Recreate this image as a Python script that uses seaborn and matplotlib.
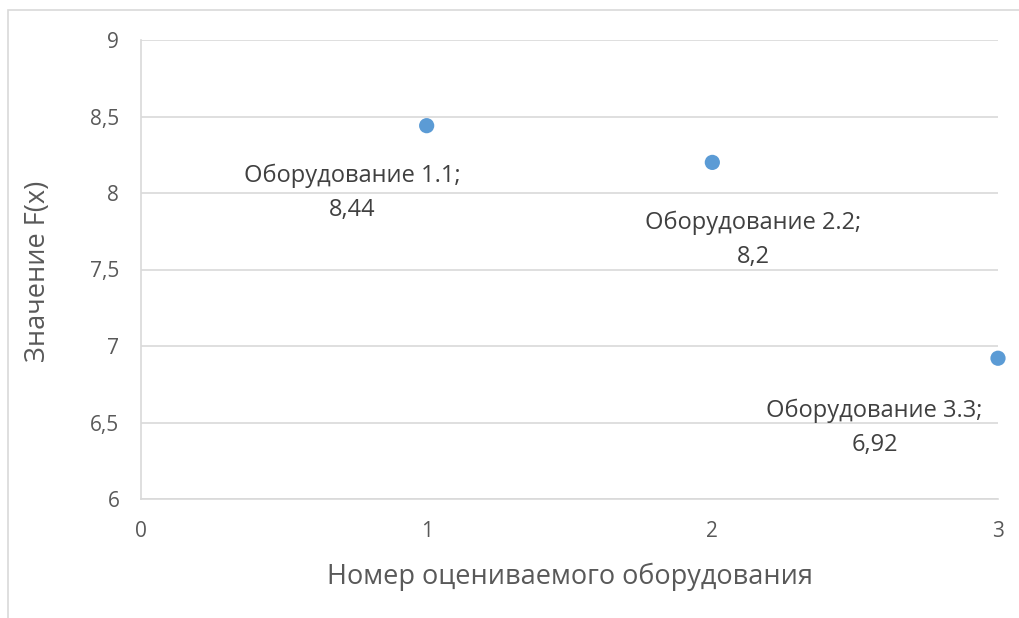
import matplotlib
matplotlib.use("Agg")
import matplotlib.pyplot as plt
import seaborn as sns
import pandas as pd
from matplotlib.patches import Rectangle

sns.set_theme(style="white")
plt.rcParams["font.family"] = ["Open Sans", "DejaVu Sans"]

# Data
equipment_no = [1, 2, 3]
f_values = [8.44, 8.2, 6.92]
point_names = ["Оборудование 1.1", "Оборудование 2.2", "Оборудование 3.3"]
value_texts = ["8,44", "8,2", "6,92"]
x_ticks = [0, 1, 2, 3]
y_ticks = [6, 6.5, 7, 7.5, 8, 8.5, 9]
y_tick_labels = ["6", "6,5", "7", "7,5", "8", "8,5", "9"]

df = pd.DataFrame({"x": equipment_no, "y": f_values})

grid_c = "#d9d9d9"
text_c = "#595959"

fig = plt.figure(figsize=(10.19, 6.18), dpi=100)
fig.patches.append(Rectangle((8 / 1019, -0.1), 1.2, (618 - 10) / 618 + 0.1,
                             transform=fig.transFigure, fill=False,
                             edgecolor=grid_c, linewidth=1.2))
ax = fig.add_axes([141 / 1019, 119 / 618, 857 / 1019, 459 / 618])

sns.scatterplot(data=df, x="x", y="y", ax=ax, color="#5b9bd5", s=120,
                edgecolor="none", zorder=3, clip_on=False)

ax.set_xlim(0, 3)
ax.set_ylim(6, 9)
ax.set_xticks(x_ticks)
ax.set_yticks(y_ticks)
ax.set_yticklabels(y_tick_labels)
ax.yaxis.grid(True, color=grid_c, linewidth=1.2)
ax.set_axisbelow(True)
for side in ["top", "right"]:
    ax.spines[side].set_visible(False)
for side in ["left", "bottom"]:
    ax.spines[side].set_color(grid_c)
    ax.spines[side].set_linewidth(1.2)
ax.tick_params(axis="both", colors=grid_c, length=3.6, width=1.2,
               labelcolor=text_c, labelsize=15, direction="out")
ax.tick_params(axis="x", pad=12)
ax.tick_params(axis="y", pad=12)

ax.set_xlabel("Номер оцениваемого оборудования", fontsize=19.5, color=text_c,
              va="center")
ax.xaxis.set_label_coords(0.5006, -0.170)
ax.set_ylabel("Значение F(x)", fontsize=19.5, color=text_c, va="center")
ax.yaxis.set_label_coords(-0.120, 0.497)

# Data labels next to each point
offsets = [(-53.5, -48.5), (29.5, -56), (-89, -50)]
for xv, yv, name, val, off in zip(equipment_no, f_values, point_names,
                                  value_texts, offsets):
    ax.annotate(f"{name};\n{val}", (xv, yv), xytext=off,
                textcoords="offset points", ha="center", va="center",
                fontsize=17, color="#404040", linespacing=1.57,
                annotation_clip=False)

fig.savefig("out.png", dpi=100)
